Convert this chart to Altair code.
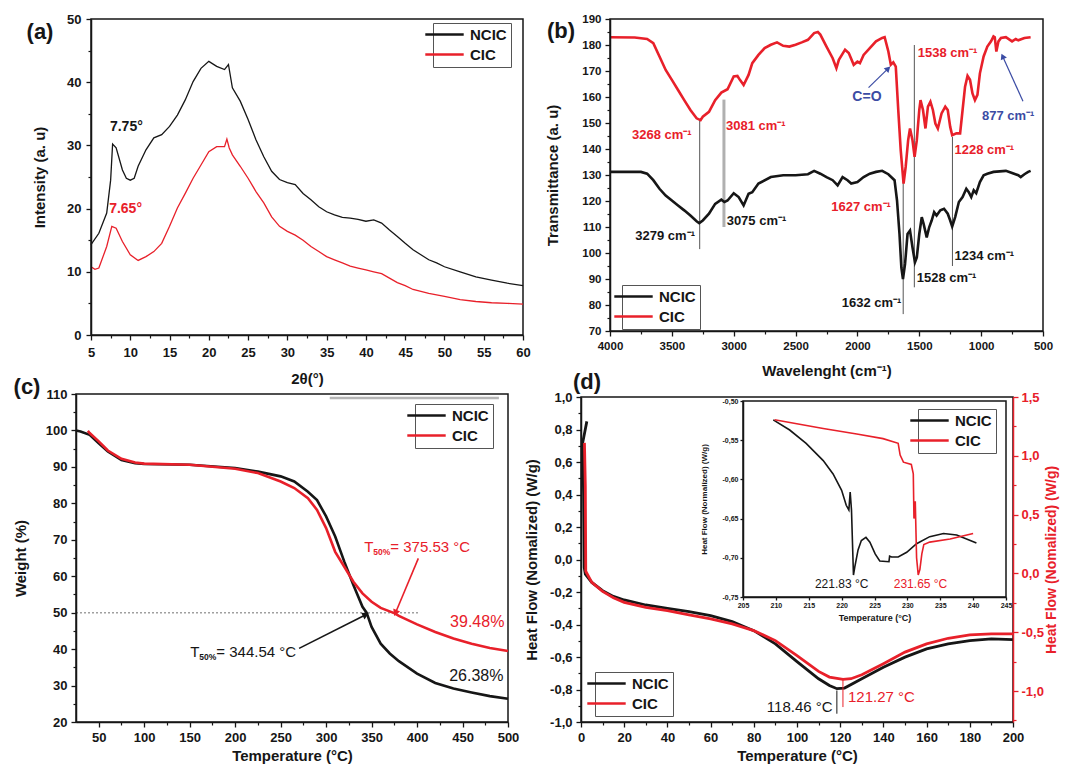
import math
import altair as alt
import pandas as pd

FONT = "Liberation Sans"
BLACK = "#161616"
RED = "#e8202a"
BLUE = "#3b4ca4"
W, H = 1052, 757
SERIES = ["NCIC", "CIC"]

# ---------------- (a) XRD ----------------
A_NCIC_X = [5, 6, 7, 7.5, 7.75, 8.2, 9, 9.5, 10, 10.5, 11, 12, 13, 14, 15, 16, 17, 18, 19, 20, 21, 22,
            22.5, 23, 24, 25, 26, 27, 28, 29, 30, 31, 32, 33, 34, 35, 36, 37, 38, 39, 40, 41, 42, 43, 44,
            45, 46, 47, 48, 49, 50, 52, 54, 56, 58, 60]
A_NCIC_Y = [14.3, 16.1, 19.3, 24.5, 30.2, 29.6, 26.1, 24.8, 24.5, 24.8, 26.7, 29.3, 31.2, 31.7, 33.0, 34.8,
            37.2, 40.1, 42.2, 43.3, 42.5, 42.0, 42.8, 39.1, 37.0, 34.1, 30.9, 28.2, 25.9, 24.6, 24.1, 23.8,
            22.4, 21.4, 20.3, 19.5, 19.0, 18.6, 18.5, 18.3, 18.0, 18.2, 17.7, 16.6, 15.6, 14.5, 13.5, 12.7,
            11.9, 11.4, 10.8, 10.0, 9.2, 8.7, 8.2, 7.8]
A_CIC_X = [5, 5.5, 6, 7, 7.65, 8.2, 9, 10, 11, 12, 13, 14, 15, 16, 17, 18, 19, 20, 21, 22, 22.3, 22.6,
           23, 24, 25, 26, 27, 28, 29, 30, 31, 32, 33, 34, 35, 36, 37, 38, 39, 40, 41, 42, 43, 44, 45, 46,
           47, 48, 50, 52, 54, 56, 58, 60]
A_CIC_Y = [10.8, 10.4, 10.6, 14.0, 17.2, 16.9, 14.8, 12.7, 11.8, 12.4, 13.2, 14.5, 17.2, 20.1, 22.4, 24.8,
           26.9, 29.0, 29.8, 29.8, 31.0, 29.6, 28.5, 26.7, 24.8, 22.7, 20.9, 18.7, 17.2, 16.4, 15.8, 15.0,
           14.0, 13.2, 12.4, 11.9, 11.4, 10.9, 10.6, 10.3, 10.0, 9.7, 9.0, 8.3, 7.8, 7.2, 6.9, 6.6, 6.1,
           5.6, 5.3, 5.1, 5.0, 4.9]
A_XTICKS = [5, 10, 15, 20, 25, 30, 35, 40, 45, 50, 55, 60]
A_YTICKS = [0, 10, 20, 30, 40, 50]
A_XMINOR = [7.5, 12.5, 17.5, 22.5, 27.5, 32.5, 37.5, 42.5, 47.5, 52.5, 57.5]
A_YMINOR = [5, 15, 25, 35, 45]

# ---------------- (b) FTIR ----------------
B_CIC_X = [4000, 3800, 3700, 3650, 3600, 3550, 3500, 3450, 3400, 3350, 3300, 3268, 3250, 3200, 3150, 3100,
           3050, 3000, 2970, 2950, 2920, 2880, 2850, 2800, 2750, 2700, 2650, 2600, 2550, 2500, 2450, 2400,
           2350, 2320, 2300, 2250, 2200, 2170, 2150, 2100, 2070, 2030, 2000, 1980, 1950, 1900, 1850, 1800,
           1780, 1750, 1730, 1710, 1690, 1670, 1650, 1627, 1610, 1590, 1575, 1555, 1538, 1520, 1500, 1490,
           1470, 1450, 1430, 1410, 1390, 1370, 1350, 1320, 1290, 1270, 1250, 1234, 1200, 1170, 1150, 1130,
           1110, 1090, 1070, 1050, 1030, 1010, 980, 950, 920, 900, 890, 877, 860, 840, 800, 750, 720, 700,
           650, 600]
B_CIC_Y = [183.0, 182.9, 182.3, 180.7, 175.6, 170.4, 166.6, 162.7, 158.8, 155.0, 151.8, 151.1, 152.4, 154.3,
           158.8, 161.7, 163.0, 167.9, 168.1, 166.6, 164.6, 168.5, 173.0, 176.2, 178.8, 180.1, 181.0, 179.7,
           179.4, 180.1, 181.0, 182.0, 184.6, 185.0, 184.0, 179.4, 174.9, 171.1, 174.3, 178.2, 176.9, 172.4,
           173.6, 173.0, 176.2, 178.8, 181.4, 182.7, 183.0, 177.5, 172.4, 173.3, 171.7, 155.0, 139.5, 126.7,
           133.1, 143.4, 147.9, 143.4, 137.0, 143.4, 155.0, 158.8, 155.0, 147.9, 156.3, 158.2, 155.0, 149.8,
           147.9, 153.7, 156.3, 155.0, 148.5, 145.3, 146.0, 146.0, 155.0, 164.0, 168.1, 166.6, 161.4, 158.8,
           160.8, 169.1, 175.6, 179.4, 181.4, 183.3, 183.0, 177.5, 181.4, 182.7, 183.0, 181.4, 182.3, 181.8,
           182.7, 183.0]
B_NCIC_X = [4000, 3750, 3700, 3650, 3600, 3550, 3500, 3450, 3400, 3350, 3300, 3279, 3250, 3200, 3150, 3100,
            3075, 3050, 3000, 2960, 2920, 2880, 2850, 2800, 2700, 2600, 2500, 2400, 2350, 2300, 2250, 2200,
            2160, 2120, 2080, 2050, 2000, 1950, 1900, 1850, 1800, 1750, 1700, 1680, 1660, 1645, 1632, 1615,
            1595, 1575, 1555, 1535, 1520, 1500, 1480, 1465, 1440, 1420, 1400, 1380, 1360, 1330, 1300, 1270,
            1250, 1234, 1210, 1180, 1150, 1120, 1100, 1080, 1060, 1040, 1010, 980, 950, 900, 800, 750, 700,
            680, 650, 620, 600]
B_NCIC_Y = [131.2, 131.2, 130.5, 128.0, 124.7, 122.1, 120.2, 118.3, 116.4, 114.4, 112.2, 111.5, 112.5, 115.1,
            118.9, 120.5, 119.6, 120.2, 123.0, 121.5, 118.3, 122.8, 123.4, 126.7, 129.2, 129.9, 129.9, 130.3,
            131.6, 130.5, 129.2, 128.0, 126.0, 129.2, 128.0, 126.7, 127.3, 129.2, 130.5, 131.2, 131.6, 130.3,
            128.0, 120.2, 107.3, 94.5, 90.0, 95.8, 107.3, 108.6, 102.2, 96.4, 98.3, 107.3, 113.8, 111.2, 106.0,
            109.9, 112.5, 115.7, 114.4, 116.4, 117.0, 115.1, 112.5, 110.2, 113.8, 119.6, 121.5, 124.7, 123.4,
            121.5, 124.1, 123.0, 127.3, 129.9, 130.5, 131.2, 131.6, 130.8, 129.9, 129.2, 130.3, 131.2, 131.6]
B_XTICKS = [4000, 3500, 3000, 2500, 2000, 1500, 1000, 500]
B_YTICKS = [70, 80, 90, 100, 110, 120, 130, 140, 150, 160, 170, 180, 190]
B_XMINOR = [3750, 3250, 2750, 2250, 1750, 1250, 750]
B_YMINOR = [75, 85, 95, 105, 115, 125, 135, 145, 155, 165, 175, 185]

# ---------------- (c) TGA ----------------
C_NCIC_X = [25, 30, 40, 50, 60, 75, 90, 100, 150, 200, 225, 250, 265, 280, 290, 300, 310, 320, 330, 340,
            344.5, 350, 360, 370, 380, 400, 420, 440, 460, 480, 500]
C_NCIC_Y = [100, 99.7, 98.8, 96.5, 94.2, 91.9, 91.0, 90.8, 90.6, 89.7, 88.7, 87.4, 86.0, 83.2, 80.9, 76.4,
            70.9, 64.0, 57.6, 51.6, 50.0, 46.1, 41.5, 38.8, 36.7, 33.3, 30.7, 29.2, 28.1, 27.1, 26.4]
C_CIC_X = [38, 40, 50, 60, 75, 90, 100, 150, 200, 225, 250, 265, 280, 290, 300, 310, 320, 330, 340, 350,
           360, 375.5, 380, 400, 420, 440, 460, 480, 500]
C_CIC_Y = [99.9, 99.3, 97.0, 94.5, 92.2, 91.2, 90.9, 90.6, 89.5, 88.3, 86.0, 84.2, 81.4, 78.2, 73.2, 66.7,
           62.6, 58.5, 55.3, 53.0, 51.3, 49.8, 49.1, 46.8, 44.7, 42.9, 41.5, 40.3, 39.5]
C_XTICKS = [50, 100, 150, 200, 250, 300, 350, 400, 450, 500]
C_YTICKS = [20, 30, 40, 50, 60, 70, 80, 90, 100, 110]
C_XMINOR = [75, 125, 175, 225, 275, 325, 375, 425, 475]
C_YMINOR = [25, 35, 45, 55, 65, 75, 85, 95, 105]

# ---------------- (d) DSC ----------------
D_NCIC_X = [2.7, 0.8, 1.2, 1.5, 2, 5, 10, 15, 20, 30, 40, 50, 60, 70, 80, 90, 100, 110, 115, 118.5, 122,
            130, 140, 150, 160, 170, 180, 190, 200]
D_NCIC_Y = [0.85, 0.72, 0.40, -0.05, -0.09, -0.141, -0.192, -0.227, -0.249, -0.280, -0.301, -0.321, -0.346,
            -0.382, -0.438, -0.519, -0.628, -0.734, -0.775, -0.795, -0.791, -0.734, -0.663, -0.601, -0.550,
            -0.519, -0.499, -0.489, -0.493]
D_CIC_X = [1.6, 2.0, 2.2, 2.5, 5, 10, 15, 20, 30, 40, 50, 60, 70, 80, 90, 100, 110, 115, 121.3, 125, 130,
           140, 150, 160, 170, 180, 190, 200]
D_CIC_Y = [1.11, 0.74, 0.02, 0.008, -0.076, -0.153, -0.206, -0.246, -0.288, -0.316, -0.353, -0.387, -0.429,
           -0.486, -0.571, -0.698, -0.833, -0.881, -0.901, -0.895, -0.862, -0.768, -0.669, -0.599, -0.551,
           -0.523, -0.514, -0.514]
D_XTICKS = [0, 20, 40, 60, 80, 100, 120, 140, 160, 180, 200]
D_LEFT_TICKS = [-1.0, -0.8, -0.6, -0.4, -0.2, 0.0, 0.2, 0.4, 0.6, 0.8, 1.0]
D_RIGHT_TICKS = [-1.0, -0.5, 0.0, 0.5, 1.0, 1.5]
D_XMINOR = [10, 30, 50, 70, 90, 110, 130, 150, 170, 190]
D_LEFT_MINOR = [-0.9, -0.7, -0.5, -0.3, -0.1, 0.1, 0.3, 0.5, 0.7, 0.9]
D_RIGHT_MINOR = [-1.25, -0.75, -0.25, 0.25, 0.75, 1.25]

# inset
I_NCIC_X = [209.6, 212.1, 214.6, 217.2, 218.7, 220.0, 220.7, 221.1, 221.3, 221.5, 221.8, 222.0, 222.5, 223.0,
            223.7, 224.3, 225.1, 225.8, 227.2, 227.3, 227.6, 228.6, 229.9, 231.4, 233.4, 235.5, 237.5, 239.0,
            240.5]
I_NCIC_Y = [-0.524, -0.537, -0.554, -0.576, -0.593, -0.614, -0.633, -0.639, -0.616, -0.639, -0.722, -0.712,
            -0.690, -0.678, -0.674, -0.680, -0.695, -0.704, -0.705, -0.698, -0.699, -0.699, -0.693, -0.682,
            -0.673, -0.669, -0.671, -0.676, -0.681]
I_CIC_X = [209.8, 217.2, 222.3, 226.3, 228.6, 228.9, 229.4, 230.6, 230.9, 231.0, 231.2, 231.4, 231.65, 231.9,
           232.2, 232.5, 233.4, 236.5, 240.0]
I_CIC_Y = [-0.524, -0.535, -0.542, -0.548, -0.554, -0.569, -0.578, -0.581, -0.593, -0.650, -0.628, -0.700,
           -0.722, -0.715, -0.695, -0.683, -0.680, -0.676, -0.669]
I_XTICKS = [205, 210, 215, 220, 225, 230, 235, 240, 245]
I_YTICKS = [-0.75, -0.70, -0.65, -0.60, -0.55, -0.50]

# ---------------- annotations (data coordinates) ----------------
A_NOTES = [("7.75°", 9.5, 32.9, BLACK), ("7.65°", 9.4, 19.9, RED)]
B_NOTES_RIGHT = [("3268 cm⁻¹", 3340, 145.3, RED), ("3279 cm⁻¹", 3313, 106.4, BLACK),
                 ("1627 cm⁻¹", 1729, 117.7, RED), ("1632 cm⁻¹", 1645, 80.7, BLACK)]
B_NOTES_LEFT = [("3081 cm⁻¹", 3062, 148.8, RED), ("3075 cm⁻¹", 3057, 112.5, BLACK),
                ("1538 cm⁻¹", 1512, 177.1, RED), ("1528 cm⁻¹", 1521, 90.3, BLACK),
                ("1228 cm⁻¹", 1215, 139.8, RED), ("1234 cm⁻¹", 1215, 98.7, BLACK),
                ("877 cm⁻¹", 993, 152.7, BLUE)]
B_NOTES_CENTER = [("C=O", 1923, 160.0, BLUE)]
B_MARKERS = [(3275, 101.5, 151.0, "#555555"), (1630, 76.5, 128.0, "#555555"),
             (1540, 86.8, 180.0, "#555555"), (1232, 95.0, 144.7, "#555555")]
B_MARKERS_WIDE = [(3079, 110.0, 159.0, "#b0b0b0")]
B_ARROWS = [(1910, 163.6, 1757, 170.7, BLUE), (662, 158.4, 823, 175.3, BLUE)]
C_T50 = [(342, 67.9, RED, "= 375.53 °C"), (150.7, 39.2, BLACK, "= 344.54 °C")]
C_PCT = [("39.48%", 496, 47.5, RED), ("26.38%", 495, 32.6, BLACK)]
C_ARROWS = [(401.4, 64.9, 376.7, 50.2, RED), (270.3, 40.2, 342.5, 49.3, BLACK)]
C_HLINES = [(25, 403, 50.0)]
C_TOPLINE = [(304, 490, 108.9)]
D_LEFT_NOTES = [("118.46 °C", 116.5, -0.91, BLACK)]
D_LEFT_MARK = [(118.46, -0.806, -0.949, BLACK)]
D_RIGHT_NOTES = [("121.27 °C", 123.6, -1.05, RED)]
D_RIGHT_MARK = [(121.27, -0.895, -1.136, RED)]
I_NOTES = [("221.83 °C", 220.0, -0.733, BLACK), ("231.65 °C", 232.0, -0.733, RED)]
PANEL_LABELS = ["(a)", "(b)", "(c)", "(d)"]

# ---------------- layout (view pixels: left, right, top, bottom) ----------------
BOX_A = (83, 515, 11, 327)
BOX_B = (602, 1035, 11, 323)
BOX_C = (68, 500, 386, 714)
BOX_D = (573, 1005, 389, 714)
BOX_I = (735, 998, 393, 589)
DOM_A = ((5, 60), (0, 50))
DOM_B = ((500, 4000), (70, 190))
DOM_C = ((25, 500), (20, 110))
DOM_D = ((0, 200), (-1.0, 1.0))
DOM_DR = (-1.263, 1.5)
DOM_I = ((205, 245), (-0.75, -0.50))
LABEL_POS = [(32, 24), (553, 23), (19, 379), (579, 374)]
LEG_A, LEG_B, LEG_C, LEG_D, LEG_I = (425, 15), (614, 277), (407, 396), (587, 664), (910, 401)


def xscale(box, dom, reverse=False):
    return alt.Scale(domain=list(dom), range=[box[0], box[1]], nice=False, zero=False, reverse=reverse)


def yscale(box, dom):
    return alt.Scale(domain=list(dom), range=[box[3], box[2]], nice=False, zero=False)


def axis_offset(orient, box):
    if orient == "bottom":
        return box[3] - H
    if orient == "left":
        return -box[0]
    return box[1] - W


def axis(orient, box, values, title, color=BLACK, label_size=13, title_size=15, title_padding=10,
         label_padding=4, tick=5, comma_dec=None, **extra):
    kw = dict(orient=orient, offset=axis_offset(orient, box), values=values, title=title, grid=False,
              domainColor=color, domainWidth=1.5, tickColor=color, tickWidth=1.3, tickSize=tick,
              labelColor=color, labelFont=FONT, labelFontSize=label_size, labelFontWeight="bold",
              labelPadding=label_padding, labelFlush=False, labelOverlap=False,
              titleColor=color, titleFont=FONT, titleFontSize=title_size, titleFontWeight="bold",
              titlePadding=title_padding, zindex=1)
    if comma_dec is not None:
        kw["labelExpr"] = ("(datum.value < 0 ? '-' : '') + replace(format(abs(datum.value), '.%df'), '.', ',')"
                           % comma_dec)
    else:
        kw["format"] = "d"
    kw.update(extra)
    return alt.Axis(**kw)


def minor_axis(orient, box, values, color=BLACK):
    return alt.Axis(orient=orient, offset=axis_offset(orient, box), values=values, labels=False,
                    domain=False, grid=False, ticks=True, tickSize=3, tickWidth=1.2, tickColor=color,
                    title=None, zindex=1)


class Enc:
    def __init__(self, xsc, ysc, xax, yax):
        self.xsc, self.ysc, self.xax, self.yax = xsc, ysc, xax, yax

    def x(self, f="x"):
        return alt.X(f"{f}:Q", scale=self.xsc, axis=self.xax)

    def y(self, f="y"):
        return alt.Y(f"{f}:Q", scale=self.ysc, axis=self.yax)


def mapper(lo, hi, dom, reverse=False):
    def f(v):
        t = (v - dom[0]) / (dom[1] - dom[0])
        if reverse:
            t = 1 - t
        return lo + t * (hi - lo)
    return f


def legend(pos):
    return alt.Legend(orient="none", legendX=pos[0], legendY=pos[1], title=None,
                      symbolType="M-3.2,0L3.2,0", symbolSize=144, symbolStrokeWidth=2.5,
                      labelFont=FONT, labelFontSize=15, labelFontWeight="bold", labelColor=BLACK,
                      strokeColor="#555555", fillColor="white", padding=4, rowPadding=4,
                      labelOffset=18, cornerRadius=0)


def lines(e, pairs, width, leg):
    rows = []
    for s, xs, ys in pairs:
        for i, (a, b) in enumerate(zip(xs, ys)):
            rows.append({"series": s, "x": a, "y": b, "i": i})
    return alt.Chart(pd.DataFrame(rows)).mark_line(strokeWidth=width).encode(
        x=e.x(), y=e.y(), order=alt.Order("i:Q"), detail="series:N",
        color=alt.Color("series:N", scale=alt.Scale(domain=SERIES, range=[BLACK, RED]), legend=leg))


def texts(e, rows, align="center", size=13, weight="bold", dx=0, dy=0):
    df = pd.DataFrame(rows, columns=["label", "x", "y", "c"])
    return alt.Chart(df).mark_text(align=align, baseline="middle", font=FONT, fontSize=size,
                                   fontWeight=weight, dx=dx, dy=dy).encode(
        x=e.x(), y=e.y(), text="label:N", color=alt.Color("c:N", scale=None))


def vrules(e, rows, width=1.0):
    df = pd.DataFrame(rows, columns=["x", "y", "y1", "c"])
    return alt.Chart(df).mark_rule(strokeWidth=width).encode(
        x=e.x(), y=e.y(), y2="y1:Q", color=alt.Color("c:N", scale=None))


def hrules(e, rows, color, width, dash=None):
    df = pd.DataFrame(rows, columns=["x", "x1", "y"])
    kw = dict(strokeWidth=width, color=color)
    if dash:
        kw["strokeDash"] = dash
    return alt.Chart(df).mark_rule(**kw).encode(x=e.x(), x2="x1:Q", y=e.y())


def arrows(e, rows, xm, ym, width=1.4, head=55):
    df = pd.DataFrame(rows, columns=["x", "y", "x1", "y1", "c"])
    angs = []
    for r in rows:
        dx = xm(r[2]) - xm(r[0])
        dy = ym(r[3]) - ym(r[1])
        angs.append((math.degrees(math.atan2(dx, -dy)) + 360) % 360)
    df["ang"] = angs
    shaft = alt.Chart(df).mark_rule(strokeWidth=width).encode(
        x=e.x(), y=e.y(), x2="x1:Q", y2="y1:Q", color=alt.Color("c:N", scale=None))
    tip = alt.Chart(df).mark_point(shape="triangle", filled=True, size=head, opacity=1).encode(
        x=e.x("x1"), y=e.y("y1"), angle=alt.Angle("ang:Q", scale=None), color=alt.Color("c:N", scale=None))
    return [shaft, tip]


def frame(e, xdom, ydom, fill=False, hidden=False):
    df = pd.DataFrame([{"x": xdom[0], "x1": xdom[1], "y": ydom[0], "y1": ydom[1]}])
    if hidden:
        m = alt.Chart(df).mark_rect(opacity=0)
    else:
        m = alt.Chart(df).mark_rect(stroke=BLACK, strokeWidth=1.5, fill="white",
                                    fillOpacity=1 if fill else 0)
    return m.encode(x=e.x(), x2="x1:Q", y=e.y(), y2="y1:Q")


def minor_layer(box, xdom, ydom, xvals, yvals, reverse=False, yorient="left", color=BLACK):
    xax = minor_axis("bottom", box, xvals) if xvals else None
    yax = minor_axis(yorient, box, yvals, color)
    e = Enc(xscale(box, xdom, reverse), yscale(box, ydom), xax, yax)
    return frame(e, xdom, ydom, hidden=True)


# ---------------- panel (a) ----------------
eA = Enc(xscale(BOX_A, DOM_A[0]), yscale(BOX_A, DOM_A[1]),
         axis("bottom", BOX_A, A_XTICKS, "2θ(°)", title_padding=12, label_padding=6),
         axis("left", BOX_A, A_YTICKS, "Intensity (a. u)", title_padding=19, label_padding=5))
panel_a = alt.layer(
    frame(eA, *DOM_A),
    lines(eA, [("NCIC", A_NCIC_X, A_NCIC_Y), ("CIC", A_CIC_X, A_CIC_Y)], 1.3, legend(LEG_A)),
    texts(eA, A_NOTES, size=14),
)
minor_a = minor_layer(BOX_A, DOM_A[0], DOM_A[1], A_XMINOR, A_YMINOR)

# ---------------- panel (b) ----------------
eB = Enc(xscale(BOX_B, DOM_B[0], reverse=True), yscale(BOX_B, DOM_B[1]),
         axis("bottom", BOX_B, B_XTICKS, "Wavelenght (cm⁻¹)", label_size=11.5, title_padding=12),
         axis("left", BOX_B, B_YTICKS, "Transmittance (a. u)", label_size=11.5, title_padding=21))
xmB = mapper(BOX_B[0], BOX_B[1], DOM_B[0], reverse=True)
ymB = mapper(BOX_B[3], BOX_B[2], DOM_B[1])
panel_b = alt.layer(
    frame(eB, *DOM_B),
    vrules(eB, B_MARKERS_WIDE, 3),
    vrules(eB, B_MARKERS, 1),
    lines(eB, [("NCIC", B_NCIC_X, B_NCIC_Y), ("CIC", B_CIC_X, B_CIC_Y)], 2.6, legend(LEG_B)),
    texts(eB, B_NOTES_RIGHT, align="right"),
    texts(eB, B_NOTES_LEFT, align="left"),
    texts(eB, B_NOTES_CENTER, size=14),
    *arrows(eB, B_ARROWS, xmB, ymB, width=1.2, head=45),
)
minor_b = minor_layer(BOX_B, DOM_B[0], DOM_B[1], B_XMINOR, B_YMINOR, reverse=True)

# ---------------- panel (c) ----------------
eC = Enc(xscale(BOX_C, DOM_C[0]), yscale(BOX_C, DOM_C[1]),
         axis("bottom", BOX_C, C_XTICKS, "Temperature (°C)", title_padding=4),
         axis("left", BOX_C, C_YTICKS, "Weight (%)", title_padding=17, label_padding=4))
xmC = mapper(BOX_C[0], BOX_C[1], DOM_C[0])
ymC = mapper(BOX_C[3], BOX_C[2], DOM_C[1])
t_rows = [("T", r[0], r[1], r[2]) for r in C_T50]
s_rows = [("50%", r[0], r[1], r[2]) for r in C_T50]
e_rows = [(r[3], r[0], r[1], r[2]) for r in C_T50]
panel_c = alt.layer(
    frame(eC, *DOM_C),
    hrules(eC, C_TOPLINE, "#b5b5b5", 2.5),
    hrules(eC, C_HLINES, "#a0a0a0", 1.5, dash=[2, 2]),
    lines(eC, [("NCIC", C_NCIC_X, C_NCIC_Y), ("CIC", C_CIC_X, C_CIC_Y)], 2.6, legend(LEG_C)),
    texts(eC, t_rows, align="left", size=15, weight="normal"),
    texts(eC, s_rows, align="left", size=8.5, weight="bold", dx=9, dy=5),
    texts(eC, e_rows, align="left", size=15, weight="normal", dx=26),
    texts(eC, C_PCT, align="right", size=16, weight="normal"),
    *arrows(eC, C_ARROWS, xmC, ymC, width=1.6, head=55),
)
minor_c = minor_layer(BOX_C, DOM_C[0], DOM_C[1], C_XMINOR, C_YMINOR)

# ---------------- panel (d) ----------------
eD = Enc(xscale(BOX_D, DOM_D[0]), yscale(BOX_D, DOM_D[1]),
         axis("bottom", BOX_D, D_XTICKS, "Temperature (°C)", title_padding=4),
         axis("left", BOX_D, D_LEFT_TICKS, "Heat Flow (Nomalized) (W/g)", comma_dec=1,
              title_padding=10, label_padding=4))
eDR = Enc(xscale(BOX_D, DOM_D[0]), yscale(BOX_D, DOM_DR), None,
          axis("right", BOX_D, D_RIGHT_TICKS, "Heat Flow (Nomalized) (W/g)", color=RED, comma_dec=1,
               title_size=14, title_padding=1, label_padding=3, titleAngle=270, titleBaseline="top"))
panel_d = alt.layer(
    frame(eD, *DOM_D),
    lines(eD, [("NCIC", D_NCIC_X, D_NCIC_Y)], 2.8, legend(LEG_D)),
    vrules(eD, D_LEFT_MARK, 1),
    texts(eD, D_LEFT_NOTES, align="right", size=15, weight="normal"),
)
panel_dr = alt.layer(
    lines(eDR, [("CIC", D_CIC_X, D_CIC_Y)], 2.8, None),
    vrules(eDR, D_RIGHT_MARK, 1),
    texts(eDR, D_RIGHT_NOTES, align="left", size=15, weight="normal"),
)
minor_d = minor_layer(BOX_D, DOM_D[0], DOM_D[1], D_XMINOR, D_LEFT_MINOR)
minor_dr = minor_layer(BOX_D, DOM_D[0], DOM_DR, None, D_RIGHT_MINOR, yorient="right", color=RED)

# ---------------- inset ----------------
eI = Enc(xscale(BOX_I, DOM_I[0]), yscale(BOX_I, DOM_I[1]),
         axis("bottom", BOX_I, I_XTICKS, "Temperature (°C)", label_size=7, title_size=9,
              title_padding=5, label_padding=1, tick=3),
         axis("left", BOX_I, I_YTICKS, "Heat Flow (Normalized) (W/g)", label_size=7, title_size=8,
              title_padding=14, label_padding=2, tick=3, comma_dec=2))
panel_i = alt.layer(
    frame(eI, *DOM_I, fill=True),
    lines(eI, [("NCIC", I_NCIC_X, I_NCIC_Y), ("CIC", I_CIC_X, I_CIC_Y)], 1.6, legend(LEG_I)),
    texts(eI, I_NOTES, size=12, weight="normal"),
)

# ---------------- panel letters ----------------
lab_df = pd.DataFrame({"label": PANEL_LABELS,
                       "px": [p[0] for p in LABEL_POS], "py": [p[1] for p in LABEL_POS]})
labels = alt.Chart(lab_df).mark_text(font=FONT, fontSize=22, fontWeight="bold", color=BLACK,
                                     align="center", baseline="middle").encode(
    x=alt.X("px:Q", scale=None, axis=None), y=alt.Y("py:Q", scale=None, axis=None), text="label:N")

chart = alt.layer(panel_a, minor_a, panel_b, minor_b, panel_c, minor_c, panel_d, panel_dr,
                  minor_d, minor_dr, panel_i, labels).resolve_scale(
    x="independent", y="independent", color="independent"
).properties(
    width=W, height=H, padding=0, autosize=alt.AutoSizeParams(type="none"), background="white"
).configure_view(stroke=None)

chart.save("out.html", embed_options={"renderer": "svg", "actions": False})
